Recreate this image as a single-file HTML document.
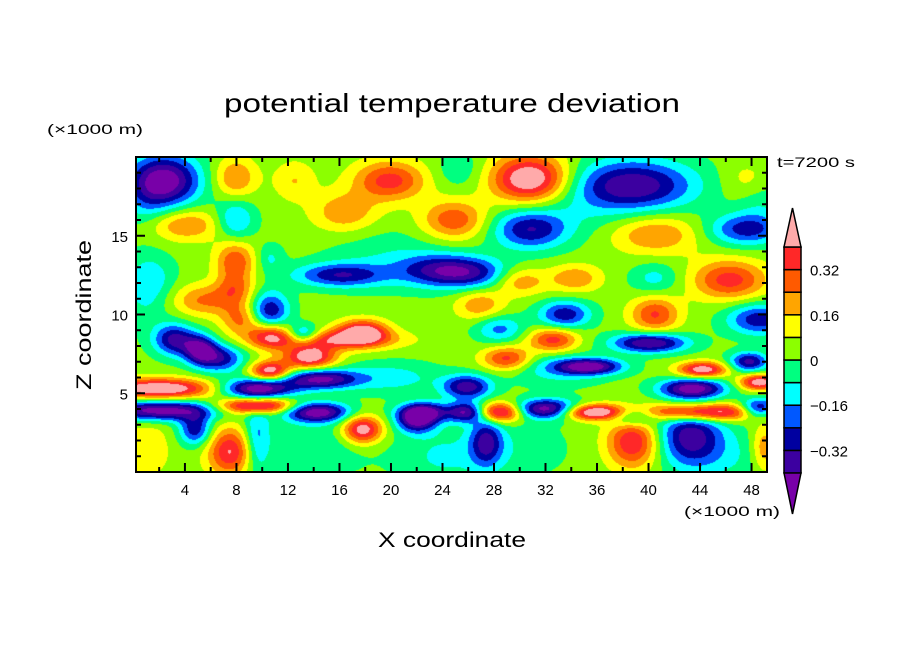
<!DOCTYPE html>
<html><head><meta charset="utf-8"><style>
html,body{margin:0;padding:0;background:#fff;}
#wrap{position:relative;width:904px;height:654px;overflow:hidden;}
canvas{position:absolute;left:136px;top:157px;}
svg{position:absolute;left:0;top:0;}
text{font-family:"Liberation Sans",sans-serif;fill:#000;}
</style></head><body>
<div id="wrap">
<canvas id="field" width="631" height="315"></canvas>
<svg id="svg" width="904" height="654">
<text x="452" y="112" text-anchor="middle" font-size="26" textLength="456" lengthAdjust="spacingAndGlyphs">potential temperature deviation</text>
<text x="47" y="134" font-size="14" textLength="96" lengthAdjust="spacingAndGlyphs">(×1000 m)</text>
<text x="684" y="516" font-size="14" textLength="96" lengthAdjust="spacingAndGlyphs">(×1000 m)</text>
<text x="777" y="167" font-size="14" textLength="78" lengthAdjust="spacingAndGlyphs">t=7200 s</text>
<text x="452" y="547" text-anchor="middle" font-size="21" textLength="148" lengthAdjust="spacingAndGlyphs">X coordinate</text>
<text x="0" y="0" text-anchor="middle" font-size="21" textLength="150" lengthAdjust="spacingAndGlyphs" transform="translate(91,315) rotate(-90)">Z coordinate</text>
<g id="axes"></g>
<g id="cbar"></g>
</svg>
</div>
<script>
// ---- data ----
const xDomain=[0.2,49.2], zDomain=[0,20];
const background=0.03;
const spread=1.25;
const blobX=[2.4,7.9,12.5,19.9,16.4,30.8,38.8,25.3,47.8,4,7.9,24.9,30.8,40.5,47.5,48.6,7.9,10.6,16,23.8,26.5,1.3,5.5,7.9,30,34.3,40.5,46.3,10.6,8.3,33.5,28.4,40.5,48.6,26.9,3.2,5.2,6.7,10.6,17.8,15.2,13.2,13.7,10.6,14.5,2,2,9.6,9.6,14.2,22.5,25.9,28.4,32.1,35.7,38.8,44.2,48.6,7.5,4.8,9.6,17.8,22,27.4,38.8,43.2,49,32.6,29,40.1,43.4,44.2,47.8,48.6,35.4,25.9,24,1,34,1,20,14,30,46,20,33,1];
const blobZ=[18.5,18.7,18.5,18.5,16.5,18.6,18.2,19.2,18.5,15.7,16,16,15.4,15.1,15.4,17.3,13.4,13.6,12.5,12.8,12.6,12.5,10.9,11.6,12.1,12.3,12.3,12.2,10.2,9.7,10,9.1,10,9.7,10.6,8.4,7.8,7.2,8.7,8.9,8.4,8.7,7.3,6.4,5.9,5.3,3.9,5.3,4.2,3.8,3.8,3.8,3.8,4,3.8,3.6,3.8,4,1.3,2.7,2.1,2.7,3.2,1.9,1.9,2.3,1.5,8.4,7.2,8.2,5.3,6.5,7,5.7,6.7,5.4,1,1.5,16.5,17,13.5,1.5,1.5,1,6,6.5,11];
const blobAmp=[-0.5,0.22,0.13,0.33,0.2,0.5,-0.42,-0.1,0.12,0.22,-0.22,0.28,-0.33,0.22,-0.3,-0.1,0.28,-0.12,-0.32,-0.3,-0.25,-0.12,0.22,0.2,0.2,0.2,-0.14,0.33,-0.35,0.22,-0.33,-0.22,0.3,-0.33,0.2,-0.38,-0.42,-0.33,0.33,0.45,0.33,-0.33,0.45,0.45,-0.45,0.5,-0.5,-0.5,0.5,-0.5,-0.45,-0.45,0.5,-0.5,0.5,-0.38,0.5,-0.5,0.38,-0.33,-0.22,0.45,-0.38,-0.33,0.38,-0.38,0.22,0.33,0.33,-0.45,-0.48,0.45,-0.38,0.45,-0.45,-0.4,-0.12,0.12,-0.06,-0.1,-0.1,-0.1,-0.08,-0.1,-0.15,-0.15,-0.1];
const blobRx=[2.2,1.3,1.3,2.2,2,2.4,3.8,1.5,1.5,2.3,1.2,2,2.3,2.7,2.3,1.5,1.2,0.8,2.8,2.5,2.3,1.5,2,1.2,1.6,1.6,1.5,2.3,1.2,1.2,1.6,1.5,1.5,2,1.5,1.3,1,1.5,1.3,1.5,4,1,1.6,1.2,2.3,3.5,3.5,2.3,2.3,2,1.5,1.2,1.5,2,2,1.5,4.5,1.2,1.4,1,0.8,1.2,1.2,1,1.6,2,0.8,1.5,1.5,2.3,2,1.5,1.2,1.2,2,1.5,3,1.5,4,1.5,4,3,3,3,3,3,1.5];
const blobRz=[1.3,1,1,1,1,1.2,1.3,1,1,0.8,1,1,1,1,0.8,1.5,1,0.7,0.6,0.8,0.8,1.2,0.8,0.8,0.7,0.7,0.8,1,1,0.8,0.7,0.7,0.9,0.8,0.8,0.8,0.7,0.7,0.7,0.6,0.5,0.5,0.6,0.5,0.5,0.5,0.5,0.5,0.4,0.5,0.5,0.5,0.5,0.5,0.4,0.5,0.45,0.5,1.2,0.8,1.8,0.7,0.6,1.2,1.3,1.5,1.2,0.6,0.6,0.5,0.5,0.4,0.5,0.4,0.4,0.6,1.5,1.5,1.5,1.5,1.5,1.5,1.5,1.5,0.8,0.8,1.5];
const levels=[-0.4,-0.32,-0.24,-0.16,-0.08,0,0.08,0.16,0.24,0.32,0.4];
const colors=["#7800a8","#3c00a0","#0000a0","#0058ff","#00ffff","#00ff80","#8cff00","#ffff00","#ffa500","#ff5a00","#ff2828","#ffaaaa"];
const xTicks=[4,8,12,16,20,24,28,32,36,40,44,48];
const zTicks=[5,10,15];
const cbarLabels=["0.32","0.16","0","\u22120.16","\u22120.32"];
const cbarLabelVals=[0.32,0.16,0,-0.16,-0.32];

// ---- scales ----
const L=136,R=767,T=157,B=472;
const xs=v=>L+(v-xDomain[0])/(xDomain[1]-xDomain[0])*(R-L);
const zs=v=>B-(v-zDomain[0])/(zDomain[1]-zDomain[0])*(B-T);
const xinv=p=>xDomain[0]+(p-L)/(R-L)*(xDomain[1]-xDomain[0]);
const zinv=p=>zDomain[0]+(B-p)/(B-T)*(zDomain[1]-zDomain[0]);

// ---- field ----
const cv=document.getElementById('field'),ctx=cv.getContext('2d');
const W=cv.width,H=cv.height,img=ctx.createImageData(W,H);
const rgb=colors.map(c=>[parseInt(c.substr(1,2),16),parseInt(c.substr(3,2),16),parseInt(c.substr(5,2),16)]);
for(let j=0;j<H;j++){const z=zinv(T+j+0.5);
 for(let i=0;i<W;i++){const x=xinv(L+i+0.5);let v=background;
  for(let k=0;k<blobX.length;k++){const dx=(x-blobX[k])/(blobRx[k]*spread),dz=(z-blobZ[k])/(blobRz[k]*spread);const d=dx*dx+dz*dz;if(d<16)v+=blobAmp[k]*Math.exp(-d);}
  let b=0;while(b<levels.length&&v>=levels[b])b++;
  const o=(j*W+i)*4,c=rgb[b];img.data[o]=c[0];img.data[o+1]=c[1];img.data[o+2]=c[2];img.data[o+3]=255;}}
ctx.putImageData(img,0,0);

// ---- axes ----
const NS='http://www.w3.org/2000/svg';
function mk(tag,attrs,parent){const e=document.createElementNS(NS,tag);for(const a in attrs)e.setAttribute(a,attrs[a]);parent.appendChild(e);return e;}
const ax=document.getElementById('axes');
const frame=mk('rect',{x:L,y:T,width:R-L,height:B-T,fill:'none',stroke:'#000','stroke-width':2},ax);


for(let v=2;v<=48;v+=2){const major=v%4===0,len=major?9:5,X=xs(v);
 const t1=mk('line',{x1:X,x2:X,y1:B,y2:B-len,stroke:'#000','stroke-width':2},ax);
 
 
 const t2=mk('line',{x1:X,x2:X,y1:T,y2:T+len,stroke:'#000','stroke-width':2},ax);
 
 }
xTicks.forEach(v=>{const t=mk('text',{x:xs(v),y:B+23,'text-anchor':'middle','font-size':15},ax);t.textContent=String(v);
 
 });
for(let v=1;v<=19;v++){const major=v%5===0,len=major?9:5,Y=zs(v);
 const t1=mk('line',{x1:L,x2:L+len,y1:Y,y2:Y,stroke:'#000','stroke-width':2},ax);
 
 
 const t2=mk('line',{x1:R,x2:R-len,y1:Y,y2:Y,stroke:'#000','stroke-width':2},ax);
 
 }
zTicks.forEach(v=>{const t=mk('text',{x:L-8,y:zs(v)+6,'text-anchor':'end','font-size':15},ax);t.textContent=String(v);
 
 });

// ---- colorbar ----
const cb=document.getElementById('cbar');
const cx0=784,cx1=801,cTop=247,cStep=22.6;
const cvs=v=>cTop+(0.4-v)/0.08*cStep;
const cBot=cvs(-0.4);
for(let b=1;b<colors.length-1;b++){
 const r=mk('rect',{x:cx0,y:cvs(levels[b]),width:cx1-cx0,height:cStep,fill:colors[b],stroke:'#000','stroke-width':1.5},cb);
 
 }
const tu=mk('polygon',{points:`${cx0},${cTop} ${cx1},${cTop} ${(cx0+cx1)/2},208`,fill:colors[colors.length-1],stroke:'#000','stroke-width':1.5},cb);


const td=mk('polygon',{points:`${cx0},${cBot} ${cx1},${cBot} ${(cx0+cx1)/2},514`,fill:colors[0],stroke:'#000','stroke-width':1.5},cb);


cbarLabelVals.forEach((v,i)=>{const t=mk('text',{x:810,y:cvs(v)+6,'font-size':15},cb);t.textContent=cbarLabels[i];
 
 });
</script>
</body></html>
